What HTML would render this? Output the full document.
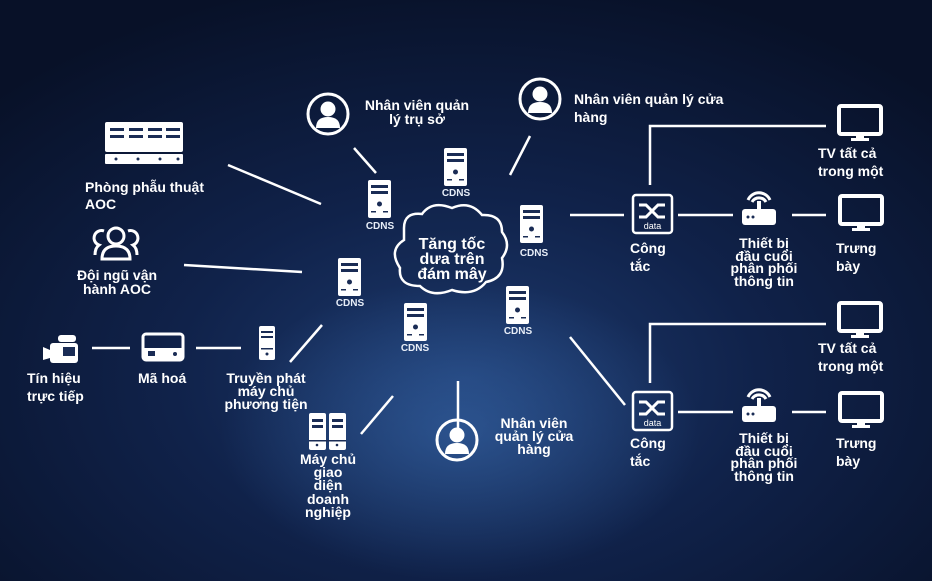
<!DOCTYPE html>
<html><head><meta charset="utf-8"><style>
html,body{margin:0;padding:0;background:#0a1632;}
svg{display:block}
text{font-family:"Liberation Sans","Noto Sans CJK SC",sans-serif;font-weight:bold;fill:#fff;}
.l{stroke:#fff;stroke-width:2.5;fill:none}
.c{font-family:"Liberation Sans",sans-serif;font-size:10px;fill:#e8eef8}
</style></head><body>
<svg width="932" height="581" viewBox="0 0 932 581" xmlns="http://www.w3.org/2000/svg">
<defs>
<radialGradient id="bg" cx="0.5" cy="0.65" r="0.7">
<stop offset="0" stop-color="#1d3a6e"/><stop offset="0.45" stop-color="#10224a"/><stop offset="1" stop-color="#081128"/>
</radialGradient>
<radialGradient id="glow" cx="0.5" cy="0.5" r="0.5">
<stop offset="0" stop-color="#3a6cb0" stop-opacity="0.55"/><stop offset="1" stop-color="#3a6cb0" stop-opacity="0"/>
</radialGradient>
<g id="srv"><rect x="0" y="0" width="23" height="38" rx="2" fill="#fff"/><rect x="3" y="5" width="17" height="3" fill="#1a2c55"/><rect x="3" y="11" width="17" height="3" fill="#1a2c55"/><circle cx="11.5" cy="24" r="2.5" fill="#1a2c55"/><rect x="3" y="31" width="5" height="1.5" fill="#1a2c55"/><rect x="15" y="31" width="5" height="1.5" fill="#1a2c55"/></g>
<g id="person"><circle cx="0" cy="0" r="20" fill="none" stroke="#fff" stroke-width="3"/><circle cx="0" cy="-5" r="7.5" fill="#fff"/><path d="M-12 14 Q-12 3 0 3 Q12 3 12 14 Z" fill="#fff"/></g>
<g id="sw"><rect x="0" y="0" width="39" height="38" rx="3" fill="none" stroke="#fff" stroke-width="2.5"/><path d="M6 10 L13 10 L25 22 L32 22 M6 22 L13 22 L25 10 L32 10" stroke="#fff" stroke-width="3" fill="none"/><text x="19.5" y="34" font-size="9" text-anchor="middle" style="font-weight:normal">data</text></g>
<g id="router"><rect x="0" y="16" width="34" height="16" rx="3" fill="#fff"/><circle cx="6" cy="24" r="1.5" fill="#1a2c55"/><circle cx="11" cy="24" r="1.5" fill="#1a2c55"/><rect x="15" y="8" width="4" height="8" fill="#fff"/><path d="M10 9 A8 8 0 0 1 24 9 M6 7 A12 12 0 0 1 28 7" stroke="#fff" stroke-width="3" fill="none"/></g>
<g id="mon"><rect x="0" y="0" width="42" height="28" rx="2" fill="none" stroke="#fff" stroke-width="4"/><rect x="17" y="28" width="8" height="4" fill="#fff"/><rect x="12" y="32" width="18" height="3" fill="#fff"/></g>
</defs>
<rect width="932" height="581" fill="url(#bg)"/>
<ellipse cx="460" cy="430" rx="240" ry="150" fill="url(#glow)"/>

<!-- left side -->
<g fill="#fff"><rect x="105" y="122" width="78" height="30" rx="2"/><rect x="105" y="154" width="78" height="10" rx="1"/></g>
<g fill="#1a2c55"><rect x="110" y="128" width="14" height="3"/><rect x="129" y="128" width="14" height="3"/><rect x="148" y="128" width="14" height="3"/><rect x="166" y="128" width="14" height="3"/><rect x="110" y="135" width="14" height="3"/><rect x="129" y="135" width="14" height="3"/><rect x="148" y="135" width="14" height="3"/><rect x="166" y="135" width="14" height="3"/>
<circle cx="116" cy="159" r="1.5"/><circle cx="138" cy="159" r="1.5"/><circle cx="160" cy="159" r="1.5"/><circle cx="178" cy="159" r="1.5"/></g>
<g font-size="14">
<text x="85" y="192">Phòng phẫu thuật</text><text x="85" y="209">AOC</text>
</g>
<line class="l" x1="228" y1="165" x2="321" y2="204"/>
<g fill="none" stroke="#fff" stroke-width="3"><circle cx="116" cy="236" r="8"/><path d="M102 259 Q102 246 116 246 Q130 246 130 259 Z"/><path d="M104 231 A6 6 0 0 0 99 245 Q95 248 95 255"/><path d="M128 231 A6 6 0 0 1 133 245 Q137 248 137 255"/></g>
<text x="117" y="280" font-size="14" text-anchor="middle">Đội ngũ vận</text><text x="117" y="294" font-size="14" text-anchor="middle">hành AOC</text>
<line class="l" x1="184" y1="265" x2="302" y2="272"/>
<g fill="#fff"><rect x="50" y="343" width="28" height="20" rx="3"/><path d="M43 347 L50 350 L50 358 L43 360 Z"/><rect x="58" y="335" width="18" height="7" rx="3"/></g>
<rect x="63" y="347" width="12" height="9" fill="#1a2c55"/>
<text x="27" y="383" font-size="14">Tín hiệu</text><text x="27" y="401" font-size="14">trực tiếp</text>
<line class="l" x1="92" y1="348" x2="130" y2="348"/>
<g><rect x="143" y="334" width="40" height="26" rx="3" fill="none" stroke="#fff" stroke-width="3"/><rect x="143" y="348" width="40" height="12" fill="#fff"/><rect x="148" y="351" width="7" height="5" fill="#1a2c55"/><circle cx="175" cy="354" r="2" fill="#1a2c55"/></g>
<text x="138" y="383" font-size="14">Mã hoá</text>
<line class="l" x1="196" y1="348" x2="241" y2="348"/>
<g><rect x="259" y="326" width="16" height="34" rx="2" fill="#fff"/><rect x="261" y="331" width="12" height="2" fill="#1a2c55"/><rect x="261" y="336" width="12" height="2" fill="#1a2c55"/><rect x="261" y="348" width="12" height="1.5" fill="#1a2c55"/><circle cx="267" cy="354" r="1.5" fill="#1a2c55"/></g>
<text x="266" y="383" font-size="14" text-anchor="middle">Truyền phát</text><text x="266" y="396" font-size="14" text-anchor="middle">máy chủ</text><text x="266" y="409" font-size="14" text-anchor="middle">phương tiện</text>
<line class="l" x1="290" y1="362" x2="322" y2="325"/>

<!-- CDNS -->
<use href="#srv" x="368" y="180"/><text class="c" x="380" y="229" text-anchor="middle">CDNS</text>
<use href="#srv" x="444" y="148"/><text class="c" x="456" y="196" text-anchor="middle">CDNS</text>
<use href="#srv" x="520" y="205"/><text class="c" x="534" y="256" text-anchor="middle">CDNS</text>
<use href="#srv" x="338" y="258"/><text class="c" x="350" y="306" text-anchor="middle">CDNS</text>
<use href="#srv" x="404" y="303"/><text class="c" x="415" y="351" text-anchor="middle">CDNS</text>
<use href="#srv" x="506" y="286"/><text class="c" x="518" y="334" text-anchor="middle">CDNS</text>

<!-- cloud -->
<path d="M404 228 Q404 212 422 214 Q432 200 452 208 Q470 200 482 215 Q502 214 502 232 Q512 245 502 258 Q506 278 486 282 Q474 297 452 290 Q432 298 420 286 Q398 286 400 268 Q388 250 404 240 Z" fill="rgba(20,40,80,0.35)" stroke="#fff" stroke-width="2.5"/>
<text x="452" y="249" font-size="16" text-anchor="middle">Tăng tốc</text>
<text x="452" y="264" font-size="16" text-anchor="middle">dưa trên</text>
<text x="452" y="279" font-size="16" text-anchor="middle">đám mây</text>

<!-- people -->
<use href="#person" x="328" y="114"/>
<text x="417" y="110" font-size="14" text-anchor="middle">Nhân viên quản</text><text x="417" y="124" font-size="14" text-anchor="middle">lý trụ sở</text>
<line class="l" x1="354" y1="148" x2="376" y2="173"/>
<use href="#person" x="540" y="99"/>
<text x="574" y="104" font-size="14">Nhân viên quản lý cửa</text><text x="574" y="122" font-size="14">hàng</text>
<line class="l" x1="530" y1="136" x2="510" y2="175"/>
<use href="#person" x="457" y="440"/>
<text x="534" y="428" font-size="14" text-anchor="middle">Nhân viên</text><text x="534" y="441" font-size="14" text-anchor="middle">quản lý cửa</text><text x="534" y="454" font-size="14" text-anchor="middle">hàng</text>
<line class="l" x1="458" y1="381" x2="458" y2="433"/>
<line class="l" x1="393" y1="396" x2="361" y2="434"/>
<g><rect x="309" y="413" width="17" height="37" rx="2" fill="#fff"/><rect x="329" y="413" width="17" height="37" rx="2" fill="#fff"/>
<g fill="#1a2c55"><rect x="312" y="419" width="11" height="3"/><rect x="312" y="425" width="11" height="3"/><rect x="332" y="419" width="11" height="3"/><rect x="332" y="425" width="11" height="3"/><rect x="309" y="440" width="37" height="1.5"/><circle cx="317" cy="445" r="1.3"/><circle cx="337" cy="445" r="1.3"/></g></g>
<g font-size="14" text-anchor="middle"><text x="328" y="464">Máy chủ</text><text x="328" y="477">giao</text><text x="328" y="490">diện</text><text x="328" y="504">doanh</text><text x="328" y="517">nghiệp</text></g>

<!-- right top block -->
<line class="l" x1="570" y1="215" x2="624" y2="215"/>
<use href="#sw" x="633" y="195"/>
<text x="630" y="253" font-size="14">Công</text><text x="630" y="271" font-size="14">tắc</text>
<polyline class="l" points="650,185 650,126 826,126"/>
<use href="#mon" x="839" y="106"/>
<text x="818" y="158" font-size="14">TV tất cả</text><text x="818" y="176" font-size="14">trong một</text>
<line class="l" x1="678" y1="215" x2="733" y2="215"/>
<use href="#router" x="742" y="193"/>
<g font-size="14" text-anchor="middle"><text x="764" y="248">Thiết bị</text><text x="764" y="261">đầu cuối</text><text x="764" y="273">phân phối</text><text x="764" y="286">thông tin</text></g>
<line class="l" x1="792" y1="215" x2="826" y2="215"/>
<use href="#mon" x="840" y="196"/>
<text x="836" y="253" font-size="14">Trưng</text><text x="836" y="271" font-size="14">bày</text>

<!-- right bottom block -->
<line class="l" x1="570" y1="337" x2="625" y2="405"/>
<use href="#sw" x="633" y="392"/>
<text x="630" y="448" font-size="14">Công</text><text x="630" y="466" font-size="14">tắc</text>
<polyline class="l" points="650,383 650,324 826,324"/>
<use href="#mon" x="839" y="303"/>
<text x="818" y="353" font-size="14">TV tất cả</text><text x="818" y="371" font-size="14">trong một</text>
<line class="l" x1="678" y1="412" x2="733" y2="412"/>
<use href="#router" x="742" y="390"/>
<g font-size="14" text-anchor="middle"><text x="764" y="443">Thiết bị</text><text x="764" y="456">đầu cuối</text><text x="764" y="468">phân phối</text><text x="764" y="481">thông tin</text></g>
<line class="l" x1="792" y1="412" x2="826" y2="412"/>
<use href="#mon" x="840" y="393"/>
<text x="836" y="448" font-size="14">Trưng</text><text x="836" y="466" font-size="14">bày</text>
</svg>
</body></html>
